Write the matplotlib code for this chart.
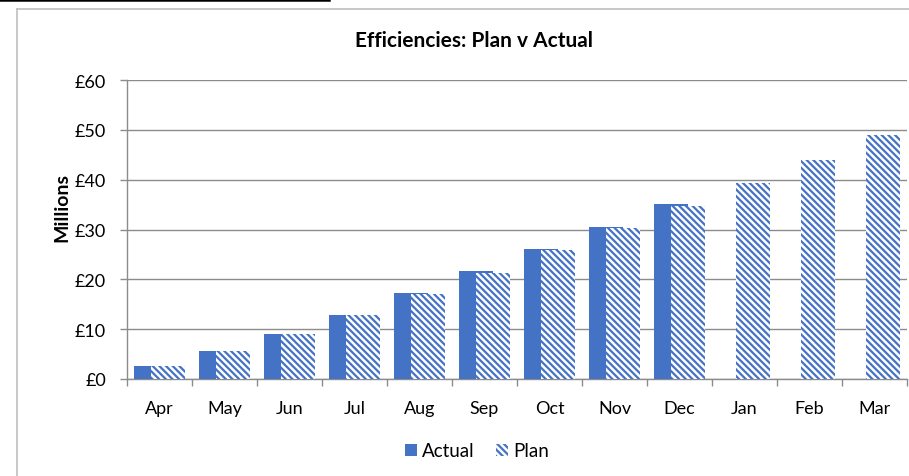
import matplotlib
matplotlib.use("Agg")
import matplotlib.pyplot as plt
import numpy as np
from matplotlib.lines import Line2D
from matplotlib.patches import Patch
from matplotlib.ticker import FuncFormatter, MultipleLocator

plt.rcParams['font.family'] = ['Lato', 'DejaVu Sans']
plt.rcParams['hatch.linewidth'] = 1.6

months = ["Apr", "May", "Jun", "Jul", "Aug", "Sep", "Oct", "Nov", "Dec", "Jan", "Feb", "Mar"]
actual = [2.6, 5.6, 9.0, 12.9, 17.3, 21.7, 26.1, 30.5, 35.1, None, None, None]
plan = [2.7, 5.6, 9.0, 12.8, 17.0, 21.3, 25.9, 30.4, 34.8, 39.4, 44.0, 49.0]

blue = "#4472C4"
grid_grey = "#8C8C8C"
plan_hatch = "\\" * 5

W, H = 909, 477
fig = plt.figure(figsize=(W / 100, H / 100), dpi=100)
ax = fig.add_axes([127 / W, (H - 380) / H, (907 - 127) / W, (380 - 81) / H])

x = np.arange(len(months))
width = 0.52
offset = 0.13

act_x = [xi - offset for xi, v in zip(x, actual) if v is not None]
act_v = [v for v in actual if v is not None]
ax.bar(act_x, act_v, width=width, color=blue, linewidth=0, zorder=3)
ax.bar(x + offset, plan, width=width, color="white", edgecolor=blue,
       hatch=plan_hatch, linewidth=0, zorder=4)

ax.set_xlim(-0.5, len(months) - 0.5)
ax.set_ylim(0, 60)
ax.yaxis.set_major_locator(MultipleLocator(10))
ax.yaxis.set_major_formatter(FuncFormatter(lambda v, p: f"£{int(v)}"))
ax.grid(axis="y", color=grid_grey, linewidth=1.0, zorder=0)

ax.set_xticks(x)
ax.set_xticklabels(months)
ax.set_xticks(np.arange(-0.5, len(months)), minor=True)
ax.tick_params(axis="x", which="major", length=0, pad=15, labelsize=13, colors="black")
ax.tick_params(axis="x", which="minor", length=5, width=1.0, color=grid_grey)
ax.tick_params(axis="y", length=5, width=1.0, color=grid_grey, pad=10, labelsize=13)

for side in ("top", "right"):
    ax.spines[side].set_visible(False)
for side in ("left", "bottom"):
    ax.spines[side].set_color(grid_grey)
    ax.spines[side].set_linewidth(1.0)

fig.text(474 / W, 1 - 41 / H, "Efficiencies: Plan v Actual", ha="center", va="center",
         fontsize=15, fontweight="bold")
fig.text(62 / W, 1 - 207 / H, "Millions", ha="center", va="center", rotation=90,
         fontsize=14, fontweight="bold")

handles = [Patch(facecolor=blue, edgecolor=blue, linewidth=0),
           Patch(facecolor="white", edgecolor=blue, hatch=plan_hatch, linewidth=0)]
fig.legend(handles, ["Actual", "Plan"], loc="center", bbox_to_anchor=(477 / W, 1 - 452 / H),
           ncol=2, frameon=False, fontsize=13.5, handlelength=0.65, handleheight=0.65,
           handletextpad=0.3, columnspacing=1.1)

# outer chart frame and top rule
fig.add_artist(Line2D([17 / W, 1.0], [1 - 10 / H, 1 - 10 / H], color="#BFBFBF", linewidth=1.2))
fig.add_artist(Line2D([17 / W, 17 / W], [1 - 10 / H, 0.0], color="#BFBFBF", linewidth=1.2))
fig.add_artist(Line2D([0.0, 329 / W], [1 - 1 / H, 1 - 1 / H], color="black", linewidth=1.8))

fig.savefig("out.png", dpi=100)
